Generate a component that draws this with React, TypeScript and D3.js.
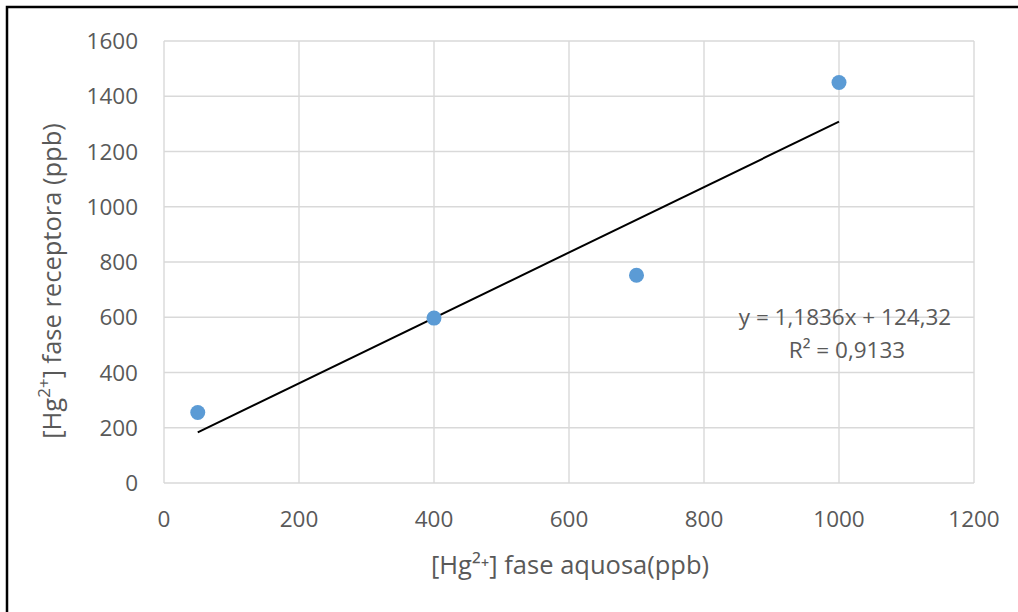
import React from "react";
import * as d3 from "d3";

const xValues = [50, 400, 700, 1000];
const yValues = [255, 597, 752, 1450];
const xTicks = [0, 200, 400, 600, 800, 1000, 1200];
const yTicks = [0, 200, 400, 600, 800, 1000, 1200, 1400, 1600];
const trendSlope = 1.1836;
const trendIntercept = 124.32;
const equationText = "y = 1,1836x + 124,32";
const r2Text = "R² = 0,9133";

const W = 1018;
const H = 612;
const plot = { left: 164, right: 974, top: 41, bottom: 483 };
const FONT = "'Open Sans', 'Liberation Sans', sans-serif";
const TEXT = "#595959";
const TICK_FS = 22.5;

export default function App() {
  const x = d3.scaleLinear().domain([0, 1200]).range([plot.left, plot.right]);
  const y = d3.scaleLinear().domain([0, 1600]).range([plot.bottom, plot.top]);
  const xMin = d3.min(xValues)!;
  const xMax = d3.max(xValues)!;
  const line = d3
    .line<number>()
    .x((d) => x(d))
    .y((d) => y(trendSlope * d + trendIntercept));
  return (
    <svg
      width={W}
      height={H}
      style={{ position: "absolute", left: 0, top: 0, background: "#fff" }}
      fontFamily={FONT}
    >
      <rect x={0} y={0} width={W} height={H} fill="#fff" />
      <rect x={7} y={7} width={W + 20} height={H + 20} fill="none" stroke="#000" strokeWidth={2.5} />
      {yTicks.map((t) => (
        <line key={"gy" + t} x1={plot.left} x2={plot.right} y1={y(t)} y2={y(t)} stroke="#d9d9d9" strokeWidth={1.4} />
      ))}
      {xTicks.map((t) => (
        <line key={"gx" + t} x1={x(t)} x2={x(t)} y1={plot.top} y2={plot.bottom} stroke="#d9d9d9" strokeWidth={1.4} />
      ))}
      {yTicks.map((t) => (
        <text key={"ty" + t} x={138} y={y(t)} dy="0.36em" textAnchor="end" fontSize={TICK_FS} fill={TEXT}>
          {t}
        </text>
      ))}
      {xTicks.map((t) => (
        <text key={"tx" + t} x={x(t)} y={519} dy="0.36em" textAnchor="middle" fontSize={TICK_FS} fill={TEXT}>
          {t}
        </text>
      ))}
      <path d={line([xMin, xMax]) ?? ""} fill="none" stroke="#000" strokeWidth={2} />
      {xValues.map((v, i) => (
        <circle key={"p" + i} cx={x(v)} cy={y(yValues[i])} r={7.5} fill="#5b9bd5" />
      ))}
      <text x={845} y={317} dy="0.36em" textAnchor="middle" fontSize={TICK_FS} fill={TEXT}>
        {equationText}
      </text>
      <text x={847} y={350} dy="0.36em" textAnchor="middle" fontSize={TICK_FS} fill={TEXT}>
        {r2Text}
      </text>
      <text x={570} y={565} dy="0.36em" textAnchor="middle" fontSize={25.5} fill={TEXT}>
        [Hg²⁺] fase aquosa(ppb)
      </text>
      <text
        transform={`translate(52, 281) rotate(-90)`}
        dy="0.36em"
        textAnchor="middle"
        fontSize={25.5}
        fill={TEXT}
      >
        [Hg<tspan baselineShift="super" fontSize={17}>2+</tspan>] fase receptora (ppb)
      </text>
    </svg>
  );
}
